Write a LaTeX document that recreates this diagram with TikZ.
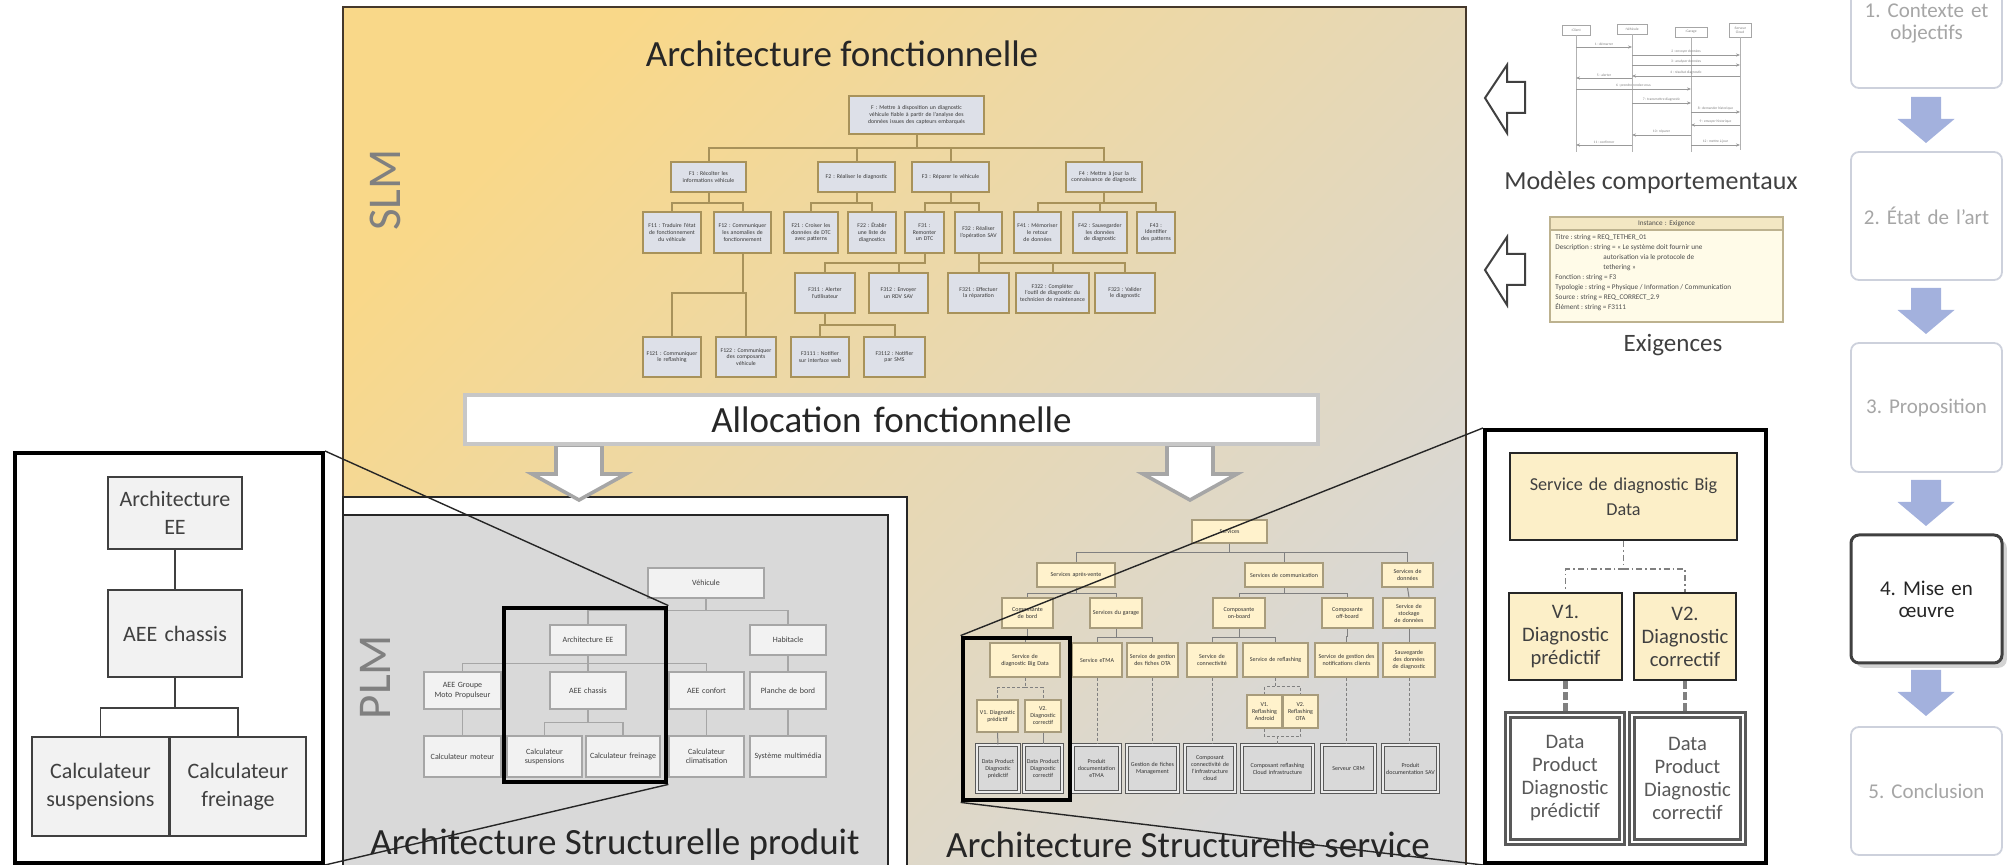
\documentclass[tikz,border=0pt]{standalone}
\usepackage{fontspec}
\setmainfont{Carlito}
\usetikzlibrary{shadows,arrows.meta}
\hyphenpenalty=10000
\exhyphenpenalty=10000
\frenchspacing
\definecolor{slmA}{HTML}{F9D889}
\definecolor{slmM}{HTML}{EEDDB0}
\definecolor{slmD}{HTML}{D8D8D8}
\definecolor{plmgrey}{HTML}{D9D9D9}
\definecolor{ink}{HTML}{262626}
\definecolor{labgrey}{HTML}{808080}
\definecolor{ffill}{HTML}{DDE0E8}
\definecolor{fline}{HTML}{A8925A}
\definecolor{pfill}{HTML}{F2F2F2}
\definecolor{pline}{HTML}{A6A6A6}
\definecolor{sfill}{HTML}{FFF2CC}
\definecolor{sline}{HTML}{A89C7C}
\definecolor{progarrow}{HTML}{A3B1DD}
\definecolor{progline}{HTML}{CDD1DC}
\definecolor{progtext}{HTML}{A6A6A6}
\definecolor{beige}{HTML}{FCEFC8}
\definecolor{dgrey}{HTML}{404040}
\definecolor{mgrey}{HTML}{595959}
\definecolor{cardfill}{HTML}{FFFBE8}
\definecolor{cardhead}{HTML}{F3E7C3}
\definecolor{cardline}{HTML}{BDB28F}

\newcommand{\bx}[7]{%
  \pgfmathsetmacro\bxcx{(#3+#5)/2}%
  \pgfmathsetmacro\bxcy{(#4+#6)/2}%
  \pgfmathsetmacro\bxw{(#5-#3)/2}%
  \pgfmathsetmacro\bxh{(#6-#4)/2}%
  \pgfmathsetmacro\bxtw{max((#5-#3)/2-2,1)}%
  \node[#1, minimum width=\bxw pt, minimum height=\bxh pt, text width=\bxtw pt] (#2) at (\bxcx,\bxcy) {#7};}
\newcommand{\allocarrow}[2]{\draw[draw=pline, line width=1.8pt, fill=white, line join=miter]
  (#1-23,#2) -- (#1+23,#2) -- (#1+23,#2+29) -- (#1+47,#2+29) -- (#1,#2+55) -- (#1-47,#2+29) -- (#1-23,#2+29) -- cycle;}
\newcommand{\pgarrow}[2]{\fill[progarrow]
  (#1-15,#2) -- (#1+15,#2) -- (#1+15,#2+22) -- (#1+28.5,#2+22) -- (#1,#2+46) -- (#1-28.5,#2+22) -- (#1-15,#2+22) -- cycle;}
\newcommand{\leftarrowshape}[1]{\draw[draw=dgrey, line width=1pt, fill=white, line join=miter]
  (1485,#1) -- (1507,#1-33) -- (1507,#1-16) -- (1525,#1-16) -- (1525,#1+15) -- (1507,#1+15) -- (1507,#1+35) -- cycle;}
\newcommand{\seqmsg}[4]{\draw[draw=gray!80, line width=0.3pt, -{Stealth[length=2pt,width=1.6pt]}] (#1,#3) -- (#2,#3) node[midway, above=-0.3pt, font=\fontsize{1.8}{2}\selectfont, text=gray] {#4};}

\begin{document}
\begin{tikzpicture}[x=0.5pt,y=-0.5pt,
  every node/.style={inner sep=1pt},
  ftbox/.style={draw=fline, fill=ffill, line width=0.9pt, align=center, font=\fontsize{2.9}{3.3}\selectfont, text=black!78},
  ftedge/.style={draw=fline, line width=1pt},
  plbox/.style={draw=pline, fill=pfill, line width=0.6pt, align=center, font=\fontsize{4}{4.6}\selectfont, text=dgrey},
  pledge/.style={draw=pline, line width=0.6pt},
  svbox/.style={draw=sline, fill=sfill, line width=0.7pt, align=center, font=\fontsize{3}{3.5}\selectfont, text=black!80},
  svdata/.style={draw=mgrey, double=black!8, double distance=0.8pt, line width=0.5pt, fill=plmgrey, align=center, font=\fontsize{3}{3.5}\selectfont, text=black!80},
  svedge/.style={draw=gray, line width=0.5pt},
  svdash/.style={draw=gray, line width=0.5pt, dash pattern=on 1.5pt off 1pt},
  hlbox/.style={draw=black, line width=2.4pt},
  ldframe/.style={draw=black, line width=2pt, fill=white},
  ldbox/.style={draw=dgrey, fill=pfill, line width=1.4pt, align=center, font=\fontsize{11}{14}\selectfont, text=dgrey},
  ldedge/.style={draw=dgrey, line width=0.9pt},
  rbig/.style={draw=ink, fill=beige, line width=1.3pt, align=center, font=\fontsize{10.3}{11.5}\selectfont, text=dgrey},
  rdata/.style={draw=mgrey, double=white, double distance=1.4pt, line width=1.1pt, fill=white, align=center, font=\fontsize{10.3}{11.5}\selectfont, text=mgrey},
  rdashdot/.style={draw=gray, line width=0.8pt, dash pattern=on 3pt off 1.5pt on 0.8pt off 1.5pt},
  rthickdash/.style={draw=gray, line width=2.4pt, dash pattern=on 4pt off 1.5pt},
  progbox/.style={draw=progline, fill=white, line width=0.9pt, rounded corners=4pt, align=center, font=\fontsize{10.5}{11}\selectfont, text=progtext},
  progcur/.style={progbox, draw=dgrey, line width=1.5pt, text=ink, drop shadow={opacity=0.35}},
  bigtitle/.style={font=\fontsize{18.5}{22}\selectfont, text=ink},
  sidelabel/.style={font=\fontsize{23.5}{26}\selectfont, text=labgrey, rotate=90},
  midtext/.style={font=\fontsize{13}{15}\selectfont, text=dgrey},
  zoomline/.style={draw=ink, line width=0.7pt},
  seqhead/.style={draw=gray!70, fill=white, line width=0.3pt, inner sep=0.4pt, align=center, font=\fontsize{1.8}{2}\selectfont, text=gray, minimum height=5pt},
  seqline/.style={draw=gray!60, line width=0.3pt},
  cardbox/.style={draw=cardline, fill=cardfill, line width=0.6pt},
  cardhd/.style={draw=cardline, fill=cardhead, line width=0.6pt, align=center, font=\fontsize{3.6}{4}\selectfont, text=black!70},
  cardtxt/.style={align=left, font=\fontsize{3.6}{5}\selectfont, text=black!70, inner sep=0pt}
]
\useasboundingbox (0,0) rectangle (2015,865);
\clip (0,0) rectangle (2015,865);

% ---------- SLM area ----------
\shade[shading=axis, top color=slmA, middle color=slmM, bottom color=slmD, shading angle=45] (343,7) rectangle (1466,880);
\draw[draw=ink!80!brown, line width=1pt] (343,7) rectangle (1466,880);
\node[bigtitle] (tfa) at (842,54) {Architecture fonctionnelle};
\node[sidelabel] (slm) at (385,190) {SLM};

% ---------- functional tree ----------
\bx{ftbox}{F0}{849}{96}{984}{134}{F : Mettre à disposition un diagnostic véhicule fiable à partir de l'analyse des données issues des capteurs embarqués}
\bx{ftbox}{F1}{671}{162}{746}{192}{F1 : Récolter les informations véhicule}
\bx{ftbox}{F2}{818}{162}{895}{192}{F2 : Réaliser le diagnostic}
\bx{ftbox}{F3}{912}{162}{989}{192}{F3 : Réparer le véhicule}
\bx{ftbox}{F4}{1066}{162}{1142}{192}{F4 : Mettre à jour la connaissance de diagnostic}
\bx{ftbox}{F11}{643}{212}{701}{253}{F11 : Traduire l'état de fonctionnement du véhicule}
\bx{ftbox}{F12}{714}{212}{771}{253}{F12 : Communiquer les anomalies de fonctionnement}
\bx{ftbox}{F21}{784}{212}{838}{253}{F21 : Croiser les données de DTC avec patterns}
\bx{ftbox}{F22}{848}{212}{896}{253}{F22 : Établir une liste de diagnostics}
\bx{ftbox}{F31}{905}{212}{944}{253}{F31 : Remonter un DTC}
\bx{ftbox}{F32}{955}{212}{1002}{253}{F32 : Réaliser l'opération SAV}
\bx{ftbox}{F41}{1014}{212}{1061}{253}{F41 : Mémoriser le retour de données}
\bx{ftbox}{F42}{1073}{212}{1127}{253}{F42 : Sauvegarder les données de diagnostic}
\bx{ftbox}{F43}{1137}{212}{1175}{253}{F43 : Identifier des patterns}
\bx{ftbox}{F311}{795}{273}{855}{313}{F311 : Alerter l'utilisateur}
\bx{ftbox}{F312}{869}{273}{928}{313}{F312 : Envoyer un RDV SAV}
\bx{ftbox}{F321}{948}{273}{1009}{313}{F321 : Effectuer la réparation}
\bx{ftbox}{F322}{1016}{273}{1089}{313}{F322 : Compléter l'outil de diagnostic du technicien de maintenance}
\bx{ftbox}{F323}{1095}{273}{1155}{313}{F323 : Valider le diagnostic}
\bx{ftbox}{F121}{643}{337}{701}{377}{F121 : Communiquer le reflashing}
\bx{ftbox}{F122}{716}{337}{776}{377}{F122 : Communiquer des composants véhicule}
\bx{ftbox}{F3111}{791}{337}{849}{377}{F3111 : Notifier sur interface web}
\bx{ftbox}{F3112}{864}{337}{925}{377}{F3112 : Notifier par SMS}
\foreach \c in {F1,F2,F3,F4} \draw[ftedge] (F0.south) -- ++(0,13) -| (\c.north);
\foreach \c in {F11,F12} \draw[ftedge] (F1.south) -- ++(0,10) -| (\c.north);
\foreach \c in {F21,F22} \draw[ftedge] (F2.south) -- ++(0,10) -| (\c.north);
\foreach \c in {F31,F32} \draw[ftedge] (F3.south) -- ++(0,10) -| (\c.north);
\foreach \c in {F41,F42,F43} \draw[ftedge] (F4.south) -- ++(0,10) -| (\c.north);
\foreach \c in {F311,F312} \draw[ftedge] (F31.south) -- ++(0,9) -| (\c.north);
\foreach \c in {F321,F322,F323} \draw[ftedge] (F32.south) -- ++(0,9) -| (\c.north);
\foreach \c in {F121,F122} \draw[ftedge] (F12.south) -- ++(0,39) -| (\c.north);
\foreach \c in {F3111,F3112} \draw[ftedge] (F311.south) -- ++(0,11) -| (\c.north);

% ---------- PLM frame ----------
\draw[draw=ink, line width=0.8pt, fill=white] (343,497) rectangle (907,880);
\draw[draw=ink, line width=1.1pt, fill=plmgrey] (343,515) rectangle (888,880);
\node[sidelabel] (plm) at (375,677) {PLM};

% ---------- allocation ----------
\allocarrow{579}{445}
\allocarrow{1190}{445}
\bx{draw=black!22, fill=white, line width=2pt, font=\fontsize{18.5}{22}\selectfont, text=ink, align=center}{alloc}{465}{395}{1318}{444}{Allocation fonctionnelle}

% ---------- PLM tree ----------
\bx{plbox}{pVeh}{648}{568}{764}{598}{Véhicule}
\bx{plbox}{pAEE}{550}{625}{626}{655}{Architecture EE}
\bx{plbox}{pHab}{750}{625}{826}{655}{Habitacle}
\bx{plbox}{pGMP}{424}{672}{501}{709}{AEE Groupe Moto Propulseur}
\bx{plbox}{pCha}{550}{672}{626}{709}{AEE chassis}
\bx{plbox}{pConf}{669}{672}{744}{709}{AEE confort}
\bx{plbox}{pPlan}{750}{672}{826}{709}{Planche de bord}
\bx{plbox}{pCMot}{424}{736}{501}{777}{Calculateur moteur}
\bx{plbox}{pCSus}{507}{736}{582}{777}{Calculateur suspensions}
\bx{plbox}{pCFre}{586}{736}{660}{777}{Calculateur freinage}
\bx{plbox}{pCCli}{669}{736}{744}{777}{Calculateur climatisation}
\bx{plbox}{pSys}{750}{736}{826}{777}{Système multimédia}
\foreach \c in {pAEE,pHab} \draw[pledge] (pVeh.south) -- ++(0,12) -| (\c.north);
\foreach \c in {pGMP,pCha,pConf} \draw[pledge] (pAEE.south) -- ++(0,8) -| (\c.north);
\foreach \c in {pCSus,pCFre} \draw[pledge] (pCha.south) -- ++(0,13) -| (\c.north);
\draw[pledge] (pHab.south) -- (pPlan.north);
\draw[pledge] (pGMP.south) -- (pCMot.north);
\draw[pledge] (pConf.south) -- (pCCli.north);
\draw[pledge] (pPlan.south) -- (pSys.north);

% ---------- service tree ----------
\bx{svbox}{sRoot}{1192}{520}{1267}{543}{Services}
\bx{svbox}{sSAV}{1037}{563}{1115}{587}{Services après-vente}
\bx{svbox}{sCom}{1245}{563}{1323}{587}{Services de communication}
\bx{svbox}{sDon}{1382}{563}{1433}{587}{Services de données}
\bx{svbox}{sBord}{1002}{598}{1053}{628}{Composante de bord}
\bx{svbox}{sGar}{1090}{598}{1142}{628}{Services du garage}
\bx{svbox}{sOn}{1213}{598}{1265}{628}{Composante on-board}
\bx{svbox}{sOff}{1322}{598}{1373}{628}{Composante off-board}
\bx{svbox}{sSto}{1383}{598}{1435}{628}{Service de stockage de données}
\bx{svbox}{sDiag}{990}{643}{1060}{677}{Service de diagnostic Big Data}
\bx{svbox}{sETMA}{1072}{643}{1122}{677}{Service eTMA}
\bx{svbox}{sOTA}{1127}{643}{1178}{677}{Service de gestion des fiches OTA}
\bx{svbox}{sCnx}{1187}{643}{1237}{677}{Service de connectivité}
\bx{svbox}{sRef}{1243}{643}{1308}{677}{Service de reflashing}
\bx{svbox}{sNot}{1315}{643}{1378}{677}{Service de gestion des notifications clients}
\bx{svbox}{sSauv}{1383}{643}{1435}{677}{Sauvegarde des données de diagnostic}
\bx{svbox}{sV1}{977}{700}{1018}{732}{V1. Diagnostic prédictif}
\bx{svbox}{sV2}{1025}{700}{1061}{732}{V2. Diagnostic correctif}
\bx{svbox}{sR1}{1247}{695}{1282}{728}{V1. Reflashing Android}
\bx{svbox}{sR2}{1283}{695}{1318}{728}{V2. Reflashing OTA}
\bx{svdata}{sD1}{977}{745}{1019}{792}{Data Product Diagnostic prédictif}
\bx{svdata}{sD2}{1024}{745}{1062}{792}{Data Product Diagnostic correctif}
\bx{svdata}{sD3}{1073}{745}{1120}{792}{Produit documentation eTMA}
\bx{svdata}{sD4}{1127}{745}{1178}{792}{Gestion de fiches Management}
\bx{svdata}{sD5}{1185}{745}{1235}{792}{Composant connectivité de l'infrastructure cloud}
\bx{svdata}{sD6}{1242}{745}{1313}{792}{Composant reflashing Cloud infrastructure}
\bx{svdata}{sD7}{1322}{745}{1375}{792}{Serveur CRM}
\bx{svdata}{sD8}{1383}{745}{1438}{792}{Produit documentation SAV}
\foreach \c in {sSAV,sCom,sDon} \draw[svedge] (sRoot.south) -- ++(0,9) -| (\c.north);
\foreach \c in {sBord,sGar} \draw[svedge] (sSAV.south) -- ++(0,6) -| (\c.north);
\foreach \c in {sOn,sOff} \draw[svedge] (sCom.south) -- ++(0,6) -| (\c.north);
\draw[svedge] (sDon.south) -- (sSto.north);
\draw[svedge] (sBord.south) -- ++(0,8) -| (sDiag.north);
\foreach \c in {sETMA,sOTA} \draw[svedge] (sGar.south) -- ++(0,9) -| (\c.north);
\foreach \c in {sCnx,sRef} \draw[svedge] (sOn.south) -- ++(0,9) -| (\c.north);
\draw[svedge] (sOff.south) -- ++(0,8) -| (sNot.north);
\draw[svedge] (sSto.south) -- (sSauv.north);
\foreach \c in {sV1,sV2} \draw[svdash] (sDiag.south) -- ++(0,10) -| (\c.north);
\draw[svedge] (sV1.south) -- (sD1.north);
\draw[svedge] (sV2.south) -- (sD2.north);
\foreach \a/\b in {sETMA/sD3,sOTA/sD4,sCnx/sD5,sNot/sD7,sSauv/sD8} \draw[svdash] (\a.south) -- (\a.south |- \b.north);
\foreach \c in {sR1,sR2} \draw[svdash] (sRef.south) -- ++(0,9) -| (\c.north);
\foreach \c in {sR1,sR2} \draw[svdash] (\c.south) -- ++(0,8) -| (sD6.north);

% ---------- titles at bottom ----------
\node[bigtitle] (tprod) at (615,845) {Architecture Structurelle produit};
\node[bigtitle] (tserv) at (1188,845) {Architecture Structurelle service};

% ---------- highlight boxes ----------
\bx{hlbox}{plmHL}{504}{608}{666}{782}{}
\bx{hlbox}{svcHL}{963}{638}{1070}{800}{}

% ---------- left detail ----------
\bx{ldframe}{leftD}{15}{453}{323}{863}{}
\bx{ldbox}{lArch}{108}{477}{242}{549}{Architecture\\EE}
\bx{ldbox}{lChas}{108}{590}{242}{677}{AEE chassis}
\bx{ldbox}{lSus}{32}{737}{169}{836}{Calculateur\\suspensions}
\bx{ldbox}{lFre}{170}{737}{306}{836}{Calculateur\\freinage}
\draw[ldedge] (lArch.south) -- (lChas.north);
\foreach \c in {lSus,lFre} \draw[ldedge] (lChas.south) -- ++(0,30) -| (\c.north);

% ---------- right detail ----------
\bx{ldframe}{rightD}{1485}{430}{1766}{863}{}
\bx{rbig, font=\fontsize{9.1}{12.5}\selectfont}{rBig}{1510}{453}{1737}{540}{Service de diagnostic Big\\Data}
\bx{rbig}{rV1}{1509}{593}{1622}{680}{V1.\\Diagnostic\\prédictif}
\bx{rbig}{rV2}{1634}{593}{1736}{680}{V2.\\Diagnostic\\correctif}
\bx{rdata}{rD1}{1508}{715}{1622}{842}{Data\\Product\\Diagnostic\\prédictif}
\bx{rdata}{rD2}{1632}{715}{1743}{842}{Data\\Product\\Diagnostic\\correctif}
\foreach \c in {rV1,rV2} \draw[rdashdot] (rBig.south) -- ++(0,28) -| (\c.north);
\draw[rthickdash] (rV1.south) -- (rV1.south |- rD1.north);
\draw[rthickdash] (rV2.south) -- (rV2.south |- rD2.north);

% ---------- zoom lines ----------
\draw[zoomline] (leftD.north east) -- (plmHL.north east);
\draw[zoomline] (leftD.south east) -- (plmHL.south east);
\draw[zoomline] (svcHL.north west) -- (rightD.north west);
\draw[zoomline] (svcHL.south west) -- (rightD.south west);

% ---------- behavioural model thumbnail ----------
\node[seqhead, minimum width=14pt] (sqA) at (1576,30) {:Client};
\node[seqhead, minimum width=15pt] (sqB) at (1632,29) {:Véhicule};
\node[seqhead, minimum width=16pt] (sqC) at (1691,32) {:Garage};
\node[seqhead, minimum width=11pt, minimum height=7pt] (sqD) at (1740,30) {:Serveur\\Cloud};
\foreach \n/\d in {sqA/117,sqB/118,sqC/115,sqD/113} \draw[seqline] (\n.south) -- ++(0,\d);
\seqmsg{1576}{1632}{47}{1 : démarrer}
\seqmsg{1632}{1740}{55}{2 : envoyer données}
\seqmsg{1632}{1740}{65}{3 : analyser données}
\seqmsg{1740}{1632}{76}{4 : résultat diagnostic}
\seqmsg{1632}{1576}{78}{5 : alerter}
\seqmsg{1576}{1691}{89}{6 : prendre rendez-vous}
\seqmsg{1632}{1691}{103}{7 : transmettre diagnostic}
\seqmsg{1691}{1740}{112}{8 : demander historique}
\seqmsg{1740}{1691}{125}{9 : envoyer historique}
\seqmsg{1691}{1632}{135}{10 : réparer}
\seqmsg{1632}{1576}{145}{11 : confirmer}
\seqmsg{1691}{1740}{145}{12 : mettre à jour}
\node[midtext] (tmod) at (1651,183) {Modèles comportementaux};
\leftarrowshape{98}

% ---------- requirement card ----------
\bx{cardbox}{card}{1550}{217}{1783}{322}{}
\bx{cardhd}{cardH}{1550}{217}{1783}{230}{Instance : Exigence}
\node[cardtxt, anchor=north west] (cardT) at (1555,234) {Titre : string = REQ\_TETHER\_01\\
Description : string = «~Le système doit fournir une\\
\hspace*{24pt}autorisation via le protocole de\\
\hspace*{24pt}tethering~»\\
Fonction : string = F3\\
Typologie : string = Physique / Information / Communication\\
Source : string = REQ\_CORRECT\_2.9\\
Élément : string = F3111};
\node[midtext, font=\fontsize{12.5}{15}\selectfont] (texi) at (1673,345) {Exigences};
\leftarrowshape{270}

% ---------- progress column ----------
\bx{progbox}{pg1}{1851}{-42}{2002}{88}{1. Contexte et\\objectifs}
\bx{progbox}{pg2}{1851}{152}{2002}{280}{2. État de l'art}
\bx{progbox}{pg3}{1851}{343}{2002}{472}{3. Proposition}
\bx{progcur}{pg4}{1851}{535}{2002}{663}{4. Mise en\\œuvre}
\bx{progbox}{pg5}{1851}{727}{2002}{855}{5. Conclusion}
\pgarrow{1926}{97}
\pgarrow{1926}{288}
\pgarrow{1926}{480}
\pgarrow{1926}{670}
\end{tikzpicture}
\end{document}
